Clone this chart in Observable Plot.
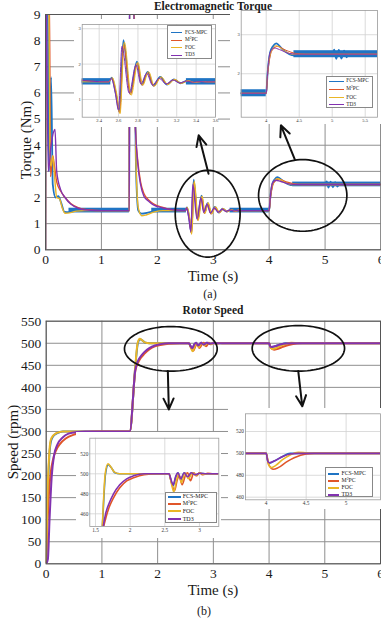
<!DOCTYPE html>
<html><head><meta charset="utf-8">
<script src="https://cdn.jsdelivr.net/npm/d3@7"></script>
<script src="https://cdn.jsdelivr.net/npm/@observablehq/plot@0.6"></script>
<style>
body{margin:0;background:#fff;}
#fig{position:relative;width:381px;height:622px;overflow:hidden;font-family:"Liberation Serif","Times New Roman",serif;color:#1a1a1a;background:#fff;}
.txt{position:absolute;transform:translate(-50%,-50%);white-space:nowrap;line-height:1;z-index:10;}
.ttl{font-weight:bold;font-size:11.5px;}
.lbl{font-size:15px;}
.cap{font-size:12px;}
.legend{position:absolute;background:#fff;border:0.7px solid #888;box-sizing:border-box;}
.lrow{position:absolute;white-space:nowrap;line-height:1;}
.sw{position:absolute;}
</style></head><body><div id="fig"></div>
<script>
// ---------- series ----------
const seriesNames = ["FCS-MPC", "M²PC", "FOC", "TD3"];
const seriesColors = ["#1f74c4", "#e0562a", "#eab626", "#8232b0"];

// ---------- time / tick labels ----------
const timeTicks = [0, 1, 2, 3, 4, 5, 6];
const torqueTicks = [0, 1, 2, 3, 4, 5, 6, 7, 8, 9];
const speedTicks = [0, 50, 100, 150, 200, 250, 300, 350, 400, 450, 500, 550];
const torqueInset1XTicks = [2.4, 2.6, 2.8, 3, 3.2, 3.4, 3.6];
const torqueInset1YTicks = [1, 2, 3];
const torqueInset2XTicks = [4, 4.5, 5, 5.5];
const torqueInset2YTicks = [2, 3];
const speedInset1XTicks = [1.5, 2, 2.5, 3];
const speedInset2XTicks = [4, 4.5, 5];
const speedInsetYTicks = [460, 480, 500, 520];

// ---------- electromagnetic torque (t [s], Nm) ----------
const torqueFcsMpc = [[0,0],[0.005,9.6],[0.04,9.6],[0.06,3.0],[0.1,6.6],[0.13,2.5],[0.18,2.0],[0.23,2.05],[0.28,1.8],[0.34,1.45],[0.42,1.44],[0.55,1.5],[1.5,1.5],
 [1.501,9.6],[1.58,9.6],[1.62,3.0],[1.66,1.5],[1.72,1.38],[1.85,1.43],[2.0,1.5],[2.5,1.5],
 [2.53,1.62],[2.57,1.2],[2.61,0.66],[2.65,2.68],[2.72,1.16],[2.79,2.07],[2.84,1.42],[2.9,1.78],[2.96,1.39],[3.03,1.64],[3.1,1.42],[3.17,1.57],[3.24,1.46],[3.31,1.53],[3.38,1.48],[3.45,1.51],[3.5,1.5],[4.0,1.5],
 [4.02,2.0],[4.06,2.55],[4.1,2.7],[4.15,2.78],[4.25,2.62],[4.35,2.5],[4.42,2.47],[4.55,2.5],[5.0,2.5],[5.03,2.62],[5.06,2.38],[5.1,2.61],[5.14,2.39],[5.18,2.59],[5.22,2.42],[5.26,2.55],[5.3,2.5],[6,2.5]];
// steady-state switching ripple band of FCS-MPC: [start t, end t, level Nm]
const torqueFcsMpcRipple = [[0.42, 1.5, 1.5], [1.9, 2.52, 1.5], [3.3, 4.0, 1.5], [4.42, 6.0, 2.5]];
const torqueRippleHalf = 0.09;
const torqueM2pc = [[0,0],[0.005,9.6],[0.07,9.6],[0.09,2.8],[0.13,3.6],[0.16,3.2],[0.2,2.6],[0.27,2.25],[0.35,2.0],[0.45,1.77],[0.6,1.6],[0.8,1.52],[1.0,1.5],[1.5,1.5],
 [1.501,9.6],[1.585,9.6],[1.6,5.0],[1.65,3.4],[1.7,2.6],[1.76,2.15],[1.85,1.9],[1.93,1.76],[2.1,1.62],[2.3,1.52],[2.5,1.5],
 [2.53,1.6],[2.575,1.15],[2.612,0.62],[2.652,2.55],[2.722,1.14],[2.792,2.02],[2.842,1.4],[2.902,1.76],[2.962,1.38],[3.032,1.62],[3.102,1.43],[3.172,1.56],[3.242,1.46],[3.312,1.53],[3.38,1.48],[3.45,1.51],[3.5,1.5],[4.0,1.5],
 [4.02,1.95],[4.06,2.45],[4.1,2.62],[4.17,2.7],[4.3,2.6],[4.45,2.52],[4.6,2.5],[6,2.5]];
const torqueFoc = [[0,0],[0.005,9.6],[0.06,9.6],[0.08,3.5],[0.1,3.2],[0.13,3.6],[0.17,2.6],[0.2,2.0],[0.25,1.95],[0.3,1.6],[0.35,1.4],[0.45,1.42],[0.55,1.48],[0.7,1.5],[1.5,1.5],
 [1.501,9.6],[1.585,9.6],[1.62,3.2],[1.66,1.6],[1.72,1.3],[1.8,1.33],[1.95,1.45],[2.1,1.5],[2.5,1.5],
 [2.535,1.62],[2.58,1.18],[2.615,0.6],[2.66,2.62],[2.73,1.12],[2.8,2.05],[2.85,1.4],[2.91,1.79],[2.97,1.38],[3.04,1.64],[3.11,1.42],[3.18,1.57],[3.25,1.46],[3.32,1.53],[3.39,1.48],[3.46,1.51],[3.52,1.5],[4.0,1.5],
 [4.02,2.0],[4.07,2.55],[4.15,2.72],[4.28,2.58],[4.4,2.5],[6,2.5]];
const torqueTd3 = [[0,0],[0.005,9.6],[0.015,9.6],[0.02,8.7],[0.05,3.0],[0.1,4.0],[0.17,4.6],[0.2,3.0],[0.27,2.3],[0.35,2.0],[0.45,1.75],[0.6,1.58],[0.8,1.51],[1.0,1.5],[1.5,1.5],
 [1.501,9.6],[1.58,9.6],[1.6,5.2],[1.65,3.3],[1.7,2.5],[1.76,2.05],[1.85,1.85],[1.93,1.72],[2.1,1.6],[2.3,1.52],[2.5,1.5],
 [2.525,1.6],[2.565,1.2],[2.6,0.7],[2.635,2.5],[2.71,1.18],[2.78,1.98],[2.83,1.44],[2.89,1.74],[2.95,1.41],[3.02,1.6],[3.09,1.44],[3.16,1.55],[3.23,1.47],[3.3,1.52],[3.37,1.49],[3.44,1.505],[3.5,1.5],[4.0,1.5],
 [4.02,2.0],[4.06,2.55],[4.12,2.66],[4.2,2.62],[4.35,2.52],[4.5,2.5],[6,2.5]];

// ---------- rotor speed (t [s], rpm) ----------
const speedFcsMpc = [[0,0],[0.02,120],[0.05,230],[0.08,275],[0.12,288],[0.18,295],[0.25,299],[0.3,300],[1.5,300],[1.6,448],[1.645,500],[1.685,509],[1.73,506],[1.78,501],[1.85,500],[2.56,500],[2.59,493],[2.62,488],[2.66,497],[2.69,501],[2.73,494],[2.78,501],[2.83,497],[2.89,501],[2.95,499],[3.0,500.5],[3.1,500],[4.0,500],[4.02,493],[4.045,491],[4.1,493],[4.2,497],[4.3,500],[6,500]];
const speedM2pc = [[0,0],[0.02,80],[0.05,160],[0.08,205],[0.12,235],[0.18,258],[0.25,272],[0.35,284],[0.5,293],[0.7,298],[0.9,300],[1.5,300],[1.6,438],[1.65,456],[1.7,467],[1.76,476],[1.85,486],[1.95,493],[2.05,496],[2.2,499],[2.4,500],[2.56,500],[2.6,490],[2.64,483],[2.68,494],[2.71,498],[2.75,489],[2.8,499],[2.83,501],[2.87,493],[2.92,501],[2.96,498],[3.0,501],[3.05,499],[3.12,500.5],[3.2,500],[4.0,500],[4.03,490],[4.09,485.5],[4.15,487],[4.25,492],[4.35,496],[4.5,499.5],[4.6,500],[6,500]];
const speedFoc = [[0,0],[0.02,140],[0.05,240],[0.08,280],[0.12,290],[0.18,296],[0.25,299],[0.3,300],[1.5,300],[1.6,450],[1.64,500],[1.68,510],[1.72,507],[1.77,502],[1.85,500],[2.56,500],[2.6,489],[2.63,482],[2.67,494],[2.7,500],[2.74,491],[2.79,501],[2.84,495],[2.9,501],[2.95,498],[3.0,501],[3.06,499.5],[3.15,500],[4.0,500],[4.03,490],[4.06,487],[4.12,489],[4.2,494],[4.3,498.5],[4.4,501],[4.5,500.5],[4.6,500],[6,500]];
const speedTd3 = [[0,0],[0.03,10],[0.06,100],[0.1,200],[0.14,245],[0.2,270],[0.3,287],[0.4,295],[0.55,299],[0.7,300],[1.5,300],[1.6,440],[1.64,458],[1.7,471],[1.76,480],[1.85,489],[1.95,495],[2.05,498],[2.2,500],[2.56,500],[2.59,494],[2.62,489],[2.66,498],[2.69,501],[2.73,495],[2.78,501],[2.83,497],[2.88,501],[2.94,499],[3.0,500.5],[3.1,500],[4.0,500],[4.02,493],[4.04,491.5],[4.1,493],[4.2,497],[4.3,499.5],[4.4,500],[6,500]];

// ---------- callout annotations (data coordinates) ----------
const torqueCallouts = [{cx:2.9, cy:1.38, rx:0.58, ry:1.66}, {cx:4.6, cy:2.08, rx:0.79, ry:1.37}];
const torqueArrows = [{x1:2.916, y1:2.91, x2:2.74, y2:4.38}, {x1:4.46, y1:3.45, x2:4.21, y2:4.76}];
const speedCallouts = [{cx:2.237, cy:487.3, rx:0.832, ry:50.6}, {cx:4.526, cy:488.4, rx:0.829, ry:51.7}];
const speedArrows = [{x1:2.183, y1:437, x2:2.201, y2:350}, {x1:4.524, y1:437, x2:4.596, y2:357}];

const torqueSeries = [torqueFcsMpc, torqueM2pc, torqueFoc, torqueTd3];
const speedSeries = [speedFcsMpc, speedM2pc, speedFoc, speedTd3];

const FONT = '"Liberation Serif","Times New Roman",serif';
const fig = document.getElementById("fig");

function seriesMarks(series, widths, ripple) {
  const marks = [];
  series.forEach((pts, i) => {
    marks.push(Plot.line(pts, {
      x: d => d[0], y: d => d[1], stroke: seriesColors[i], strokeWidth: widths[i],
      curve: "monotone-x", clip: true
    }));
    if (i === 0 && ripple) {
      marks.push(Plot.rect(ripple, {
        x1: d => d[0], x2: d => d[1], y1: d => d[2] - torqueRippleHalf, y2: d => d[2] + torqueRippleHalf,
        fill: seriesColors[0], clip: true
      }));
    }
  });
  return marks;
}
function ellipseMarks(callouts) {
  return callouts.map(c => {
    const pts = d3.range(0, 97).map(k => {
      const a = k / 96 * 2 * Math.PI;
      return [c.cx + c.rx * Math.cos(a), c.cy + c.ry * Math.sin(a)];
    });
    return Plot.line(pts, {x: d => d[0], y: d => d[1], stroke: "#111", strokeWidth: 1.7, curve: "linear-closed"});
  });
}
function place(el, left, top, z) {
  el.style.position = "absolute";
  el.style.left = left + "px";
  el.style.top = top + "px";
  if (z) el.style.zIndex = z;
  fig.appendChild(el);
  return el;
}
function text(str, x, y, cls, rotate) {
  const d = document.createElement("div");
  d.className = "txt " + cls;
  d.innerHTML = str;
  d.style.left = x + "px"; d.style.top = y + "px";
  if (rotate) d.style.transform = "translate(-50%,-50%) rotate(-90deg)";
  fig.appendChild(d);
}

function mainChart({series, widths, ripple, yDomain, yTicks, height, mt, mb, ml, mr, callouts, arrows}) {
  return Plot.plot({
    width: 381, height, marginTop: mt, marginBottom: mb, marginLeft: ml, marginRight: mr,
    style: {fontFamily: FONT, fontSize: "13.5px", color: "#1a1a1a", background: "transparent", overflow: "visible"},
    x: {domain: [0, 6], ticks: timeTicks, tickSize: 0, tickPadding: 5, tickFormat: d => String(d), label: null},
    y: {domain: yDomain, ticks: yTicks, tickSize: 0, tickPadding: 5, tickFormat: d => String(d), label: null},
    marks: [
      Plot.ruleX(timeTicks, {stroke: "#8f8f8f", strokeWidth: 1}),
      Plot.ruleY(yTicks, {stroke: "#8f8f8f", strokeWidth: 1}),
      ...seriesMarks(series, widths, ripple),
      Plot.frame({stroke: "#555", strokeWidth: 1}),
      ...ellipseMarks(callouts),
      Plot.arrow(arrows, {x1: "x1", y1: "y1", x2: "x2", y2: "y2", stroke: "#111", strokeWidth: 2, headLength: 9, headAngle: 50})
    ]
  });
}

function inset({series, widths, ripple, xDomain, yDomain, xTicks, yTicks, w, h, ml, mt, mr, mb, fs}) {
  return Plot.plot({
    width: w, height: h, marginLeft: ml, marginTop: mt, marginRight: mr, marginBottom: mb,
    style: {fontFamily: FONT, fontSize: fs + "px", color: "#333", background: "#fff", overflow: "visible"},
    x: {domain: xDomain, ticks: xTicks, tickSize: 0, tickPadding: 1.5, tickFormat: d => String(d), label: null},
    y: {domain: yDomain, ticks: yTicks, tickSize: 0, tickPadding: 1.5, tickFormat: d => String(d), label: null},
    marks: [
      Plot.ruleX(xTicks, {stroke: "#d2d2d2", strokeWidth: 0.8}),
      Plot.ruleY(yTicks, {stroke: "#d2d2d2", strokeWidth: 0.8}),
      ...seriesMarks(series, widths, ripple),
      Plot.frame({stroke: "#9a9a9a", strokeWidth: 0.8})
    ]
  });
}

function legend({left, top, w, h, rows, sx1, sx2, tx, fs, lw}) {
  const box = document.createElement("div");
  box.className = "legend";
  box.style.left = left + "px"; box.style.top = top + "px";
  box.style.width = w + "px"; box.style.height = h + "px";
  box.style.zIndex = 5;
  seriesNames.forEach((name, i) => {
    const sw = document.createElement("div");
    sw.className = "sw";
    sw.style.left = sx1 + "px"; sw.style.width = (sx2 - sx1) + "px";
    sw.style.top = (rows[i] - lw / 2) + "px"; sw.style.height = lw + "px";
    sw.style.background = seriesColors[i];
    box.appendChild(sw);
    const t = document.createElement("div");
    t.className = "lrow";
    t.style.left = tx + "px"; t.style.top = (rows[i] - fs * 0.55) + "px";
    t.style.fontSize = fs + "px";
    t.innerHTML = name === "M²PC" ? 'M<sup style="font-size:65%;vertical-align:0.45em;line-height:0">2</sup>PC' : name;
    box.appendChild(t);
  });
  fig.appendChild(box);
}

// ---------- (a) Electromagnetic torque ----------
const torqueMain = mainChart({
  series: torqueSeries, widths: [1.8, 1.4, 1.4, 1.4], ripple: torqueFcsMpcRipple, yDomain: [0, 9], yTicks: torqueTicks,
  height: 285, mt: 14, mb: 35.7, ml: 45, mr: 0.5, callouts: torqueCallouts, arrows: torqueArrows
});
place(torqueMain, 0, 0, 1);

place(inset({series: torqueSeries, widths: [1.8, 1, 1, 1], ripple: torqueFcsMpcRipple, xDomain: [2.225, 3.6], yDomain: [0.5, 3.12],
  xTicks: torqueInset1XTicks, yTicks: torqueInset1YTicks, w: 144, h: 108, ml: 7.7, mt: 5, mr: 3, mb: 10.3, fs: 4.6}), 74, 19, 3);
place(inset({series: torqueSeries, widths: [1.8, 1, 1, 1], ripple: torqueFcsMpcRipple, xDomain: [3.621, 5.686], yDomain: [0.887, 3.62],
  xTicks: torqueInset2XTicks, yTicks: torqueInset2YTicks, w: 151, h: 116, ml: 10.7, mt: 2, mr: 4, mb: 7.3, fs: 4.6}), 230, 8, 3);
legend({left: 166.7, top: 25, w: 45, h: 34.3, rows: [6.7, 14.3, 21.7, 29], sx1: 3.3, sx2: 14.3, tx: 17.3, fs: 5.3, lw: 0.9});
legend({left: 326, top: 76, w: 46.7, h: 32.3, rows: [4.3, 12.3, 20.5, 27.8], sx1: 2, sx2: 16.5, tx: 19.3, fs: 5.3, lw: 0.9});

text("Electromagnetic Torque", 213, 6.5, "ttl");
text("Torque (Nm)", 26, 140, "lbl", true);
text("Time (s)", 213, 276, "lbl");
text("(a)", 210, 294, "cap");

// ---------- (b) Rotor speed ----------
const speedMain = mainChart({
  series: speedSeries, widths: [2, 2, 2, 2], ripple: null, yDomain: [0, 550], yTicks: speedTicks,
  height: 300, mt: 20.7, mb: 36.7, ml: 45.7, mr: 1, callouts: speedCallouts, arrows: speedArrows
});
place(speedMain, 0, 300, 1);

place(inset({series: speedSeries, widths: [1.6, 1.6, 1.6, 1.6], ripple: null, xDomain: [1.418, 3.279], yDomain: [447.3, 535.6],
  xTicks: speedInset1XTicks, yTicks: speedInsetYTicks, w: 145, h: 106, ml: 13.3, mt: 5.7, mr: 2.7, mb: 12, fs: 5.3}), 76, 432, 3);
place(inset({series: speedSeries, widths: [1.6, 1.6, 1.6, 1.6], ripple: null, xDomain: [3.741, 5.43], yDomain: [457.6, 536.2],
  xTicks: speedInset2XTicks, yTicks: speedInsetYTicks, w: 153, h: 101, ml: 17, mt: 5.3, mr: 1, mb: 9.7, fs: 5.3}), 228, 408, 3);
legend({left: 165, top: 491.7, w: 51.7, h: 31.6, rows: [4, 11, 18.6, 26.3], sx1: 1.7, sx2: 15, tx: 16.7, fs: 6, lw: 1.8});
legend({left: 325, top: 466.7, w: 47.7, h: 30.5, rows: [6.4, 13.3, 20.6, 27.3], sx1: 1.7, sx2: 13.3, tx: 15.5, fs: 5.8, lw: 1.8});

text("Rotor Speed", 213, 311, "ttl");
text("Speed (rpm)", 13.3, 442, "lbl", true);
text("Time (s)", 213, 590, "lbl");
text("(b)", 204, 611, "cap");
</script></body></html>
